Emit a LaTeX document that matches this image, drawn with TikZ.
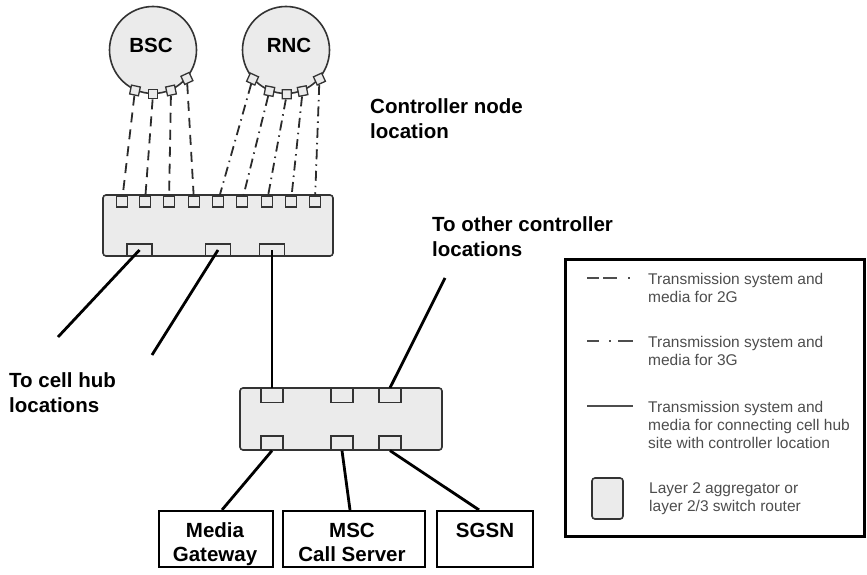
\documentclass[tikz,border=0pt]{standalone}
\usepackage{fontspec}
\setmainfont{Liberation Sans}
\definecolor{edgegray}{HTML}{333333}
\definecolor{boxfill}{HTML}{EBEBEB}
\definecolor{keygray}{HTML}{4D4D4D}
\definecolor{linegray}{HTML}{2B2B2B}
\tikzset{
  ctrl/.style={circle, draw=edgegray, fill=boxfill, line width=1.6pt, minimum size=87pt, inner sep=0pt},
  cport/.style={rectangle, draw=edgegray, fill=boxfill, line width=1.3pt, minimum size=9pt, inner sep=0pt},
  aggbox/.style={rectangle, draw=edgegray, fill=boxfill, rounded corners=3pt, line width=1.6pt, inner sep=0pt},
  aport/.style={rectangle, draw=edgegray, fill=boxfill, line width=1.3pt, inner sep=0pt},
  unitbox/.style={rectangle, draw=black, line width=2.2pt, minimum height=56pt, inner sep=0pt},
  link/.style={draw=black, line width=2.8pt},
  twog/.style={draw=linegray, line width=1.8pt, dash pattern=on 10pt off 7pt},
  threeg/.style={draw=linegray, line width=1.8pt, dash pattern=on 10pt off 5pt on 1.5pt off 5pt},
  keyline/.style={draw=keygray, line width=2.5pt},
  note/.style={font=\fontsize{20.5}{25}\selectfont\bfseries, align=left, anchor=base west, inner sep=0pt},
  boxtext/.style={font=\fontsize{20.5}{24.5}\selectfont\bfseries, align=center, anchor=base, inner sep=0pt},
  keytext/.style={font=\fontsize{15.5}{18}\selectfont, text=keygray, align=left, anchor=base west, inner sep=0pt},
}
\begin{document}
\begin{tikzpicture}[x=1pt, y=-1pt]
\useasboundingbox (0,0) rectangle (867,575);

% controllers
\node[ctrl] (bsc) at (153,50) {};
\node[ctrl] (rnc) at (286,50) {};
\node[font=\fontsize{20.5}{25}\selectfont\bfseries, anchor=base, inner sep=0pt] (bsctext) at (151,53) {BSC};
\node[font=\fontsize{20.5}{25}\selectfont\bfseries, anchor=base, inner sep=0pt] (rnctext) at (289,53) {RNC};

% controller ports
\foreach \a [count=\i] in {-114,-90,-66,-40}
  \node[cport, rotate={(\a+90)/2}] (b\i) at (bsc.\a) {};
\foreach \a [count=\i] in {-139,-112,-89,-68,-41}
  \node[cport, rotate={(\a+90)/2}] (r\i) at (rnc.\a) {};

% upper aggregator
\node[aggbox, minimum width=230pt, minimum height=61pt] (agg1) at (218,225.5) {};
\foreach \x [count=\i] in {122,145,169,194,218,242,267,291,315}
  \node[aport, minimum width=11pt, minimum height=11pt] (t\i) at (\x,201.5) {};
\foreach \x [count=\i] in {139.5,218,272}
  \node[aport, minimum width=25pt, minimum height=12pt] (a\i) at (\x,250) {};

% 2G and 3G transmission
\foreach \i/\j in {1/1,2/2,3/3,4/4}
  \draw[twog] (b\i) -- (t\j);
\foreach \i/\j in {1/5,2/6,3/7,4/8,5/9}
  \draw[threeg] (r\i) -- (t\j);

% lower aggregator
\node[aggbox, minimum width=202pt, minimum height=62pt] (agg2) at (341,419) {};
\foreach \x [count=\i] in {272,342,390} {
  \node[aport, minimum width=22pt, minimum height=14pt] (c\i) at (\x,395.5) {};
  \node[aport, minimum width=22pt, minimum height=14pt] (d\i) at (\x,443) {};
}

% core network elements
\node[unitbox, minimum width=114pt] (media) at (216,539) {};
\node[unitbox, minimum width=142pt] (msc) at (354,539) {};
\node[unitbox, minimum width=96pt] (sgsn) at (485,539) {};
\node[boxtext] (mediatext) at (215,561.5) {Media\\Gateway};
\node[boxtext] (msctext) at (352,561.5) {MSC\\Call Server};
\node[boxtext] (sgsntext) at (485,537) {SGSN};

% cell hub and inter-site links
\coordinate (hub1) at (58,337);
\coordinate (hub2) at (152,355);
\coordinate (other) at (445,278);
\draw[link] (a1.center) -- (hub1);
\draw[link] (a2.center) -- (hub2);
\draw[link] (a3.center) -- (c1.north);
\draw[link] (c3.north) -- (other);
\draw[link] (d1.south) -- ([xshift=6pt]media.north);
\draw[link] (d2.south) -- ([xshift=-4pt]msc.north);
\draw[link] (d3.south) -- ([xshift=-6pt]sgsn.north);

% annotations (anchored at the baseline of the last line)
\node[note] (ctrlloc) at (370,138.5) {Controller node\\location};
\node[note] (otherloc) at (432,256.5) {To other controller\\locations};
\node[note] (hubloc) at (9,412) {To cell hub\\locations};

% legend
\node[rectangle, draw=black, line width=3pt, minimum width=299.5pt, minimum height=277pt, inner sep=0pt] (legend) at (714.75,397.5) {};
\coordinate (k1a) at (587,278);  \coordinate (k1b) at (631,278);
\coordinate (k2a) at (587,341);  \coordinate (k2b) at (633,341);
\coordinate (k3a) at (587,406);  \coordinate (k3b) at (633,406);
\draw[keyline, dash pattern=on 12pt off 4pt on 14pt off 11pt on 2pt off 10pt] (k1a) -- (k1b);
\draw[keyline, dash pattern=on 12pt off 10pt on 2pt off 7pt on 15pt off 10pt] (k2a) -- (k2b);
\draw[keyline] (k3a) -- (k3b);
\node[aggbox, minimum width=31pt, minimum height=41pt] (keybox) at (607.5,498.5) {};
\node[keytext] (key1) at (648,302) {Transmission system and\\media for 2G};
\node[keytext] (key2) at (648,365.5) {Transmission system and\\media for 3G};
\node[keytext] (key3) at (648,448) {Transmission system and\\media for connecting cell hub\\site with controller location};
\node[keytext] (key4) at (649,511.5) {Layer 2 aggregator or\\layer 2/3 switch router};
\end{tikzpicture}
\end{document}
